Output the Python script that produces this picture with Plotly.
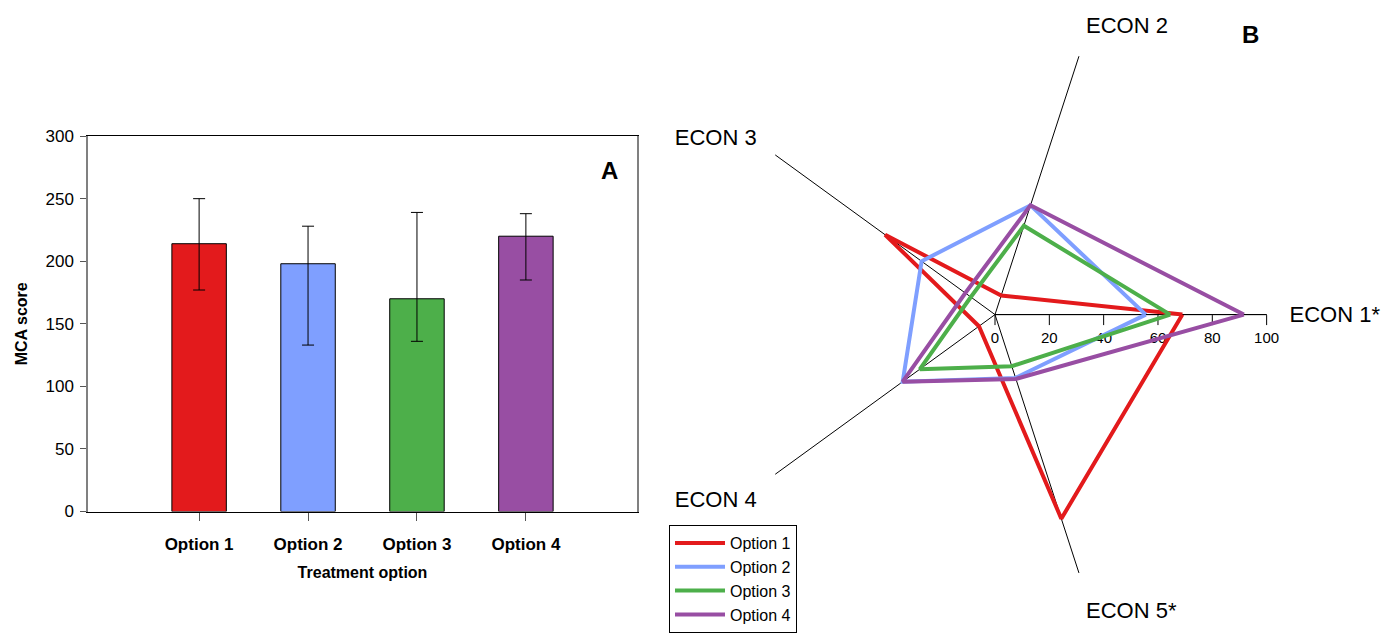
import plotly.graph_objects as go

# --- Panel A: MCA score by treatment option ---
options = ["Option 1", "Option 2", "Option 3", "Option 4"]
mca_score = [214, 198, 170, 220]
mca_upper = [250, 228, 239, 238]
mca_lower = [177, 133, 136, 185]

# --- Panel B: economic criteria radar ---
criteria = ["ECON 1*", "ECON 2", "ECON 3", "ECON 4", "ECON 5*"]
radar_option1 = [69, 7.4, 50, 7.3, 79]
radar_option2 = [55.5, 42.3, 33.4, 42, 24.5]
radar_option3 = [64.5, 34.4, 11, 34.2, 20]
radar_option4 = [91.6, 42.3, 13.5, 42, 24.9]
radial_ticks = [0, 20, 40, 60, 80, 100]

colors = ["#E31A1C", "#7F9FFF", "#4DAF4A", "#984EA3"]
FONT = "Arial, Liberation Sans, sans-serif"
W, H = 1387, 636

fig = go.Figure()

err_plus = [u - v for u, v in zip(mca_upper, mca_score)]
err_minus = [v - l for v, l in zip(mca_score, mca_lower)]

fig.add_trace(go.Bar(
    x=options, y=mca_score,
    marker=dict(color=colors, line=dict(color="black", width=1)),
    width=0.5,
    error_y=dict(type="data", symmetric=False, array=err_plus, arrayminus=err_minus,
                 color="black", thickness=1, width=6),
    showlegend=False, xaxis="x", yaxis="y",
))

radar_sets = [radar_option1, radar_option2, radar_option3, radar_option4]
for name, vals, col in zip(options, radar_sets, colors):
    fig.add_trace(go.Scatterpolar(
        r=vals + vals[:1], theta=criteria + criteria[:1],
        mode="lines", name=name,
        line=dict(color=col, width=4),
        subplot="polar",
    ))

# plot-area geometry in pixels
ax_l, ax_r, ax_t, ax_b = 88, 637, 131, 518
pol_cx, pol_cy, pol_R = 995, 315, 280

fig.update_layout(
    width=W, height=H,
    margin=dict(l=0, r=0, t=0, b=0),
    paper_bgcolor="white", plot_bgcolor="white",
    font=dict(family=FONT, color="black"),
    xaxis=dict(
        domain=[ax_l / W, ax_r / W],
        range=[-1.02, 4.02],
        showline=True, linecolor="black", linewidth=1, mirror=True,
        ticks="outside", ticklen=8, tickcolor="#555",
        tickfont=dict(size=17, family=FONT, weight="bold"),
        ticklabelstandoff=9,
        title=dict(text="<b>Treatment option</b>", font=dict(size=16), standoff=13),
        showgrid=False, zeroline=False,
    ),
    yaxis=dict(
        domain=[1 - ax_b / H, 1 - ax_t / H],
        range=[0, 300], dtick=50,
        showline=True, linecolor="#808080", linewidth=1.5, mirror=True,
        ticks="outside", ticklen=6, tickcolor="#555",
        tickfont=dict(size=17),
        ticklabelstandoff=3,
        title=dict(text="<b>MCA score</b>", font=dict(size=16), standoff=14),
        showgrid=False, zeroline=False,
    ),
    polar=dict(
        domain=dict(x=[(pol_cx - pol_R) / W, (pol_cx + pol_R) / W],
                    y=[1 - (pol_cy + pol_R) / H, 1 - (pol_cy - pol_R) / H]),
        bgcolor="white",
        radialaxis=dict(
            range=[0, 100], tickvals=radial_ticks, angle=0, side="clockwise",
            showline=True, linecolor="black", linewidth=1,
            ticks="outside", ticklen=10, tickcolor="black",
            tickfont=dict(size=15),
            showgrid=False, layer="below traces",
        ),
        angularaxis=dict(
            type="category", categoryarray=criteria, rotation=0, direction="counterclockwise",
            showline=False, showgrid=True, gridcolor="black", gridwidth=1,
            ticks="outside", ticklen=18, tickcolor="rgba(0,0,0,0)",
            tickfont=dict(size=22), layer="below traces",
        ),
    ),
    legend=dict(
        x=669 / W, y=1 - 532 / H, xanchor="left", yanchor="top",
        bordercolor="black", borderwidth=1, bgcolor="white",
        font=dict(size=16), itemwidth=50,
    ),
    annotations=[
        dict(text="<b>A</b>", x=609 / W, y=1 - 166 / H, xref="paper", yref="paper",
             xanchor="center", yanchor="middle", showarrow=False, font=dict(size=24)),
        dict(text="<b>B</b>", x=1250 / W, y=1 - 26 / H, xref="paper", yref="paper",
             xanchor="center", yanchor="middle", showarrow=False, font=dict(size=24)),
    ],
)

fig.write_html("out.html")
